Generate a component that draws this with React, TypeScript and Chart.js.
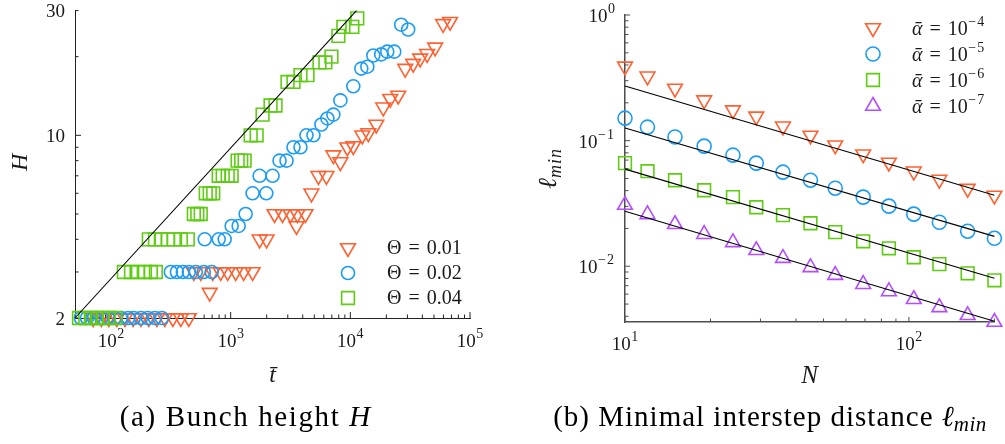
import React, { useEffect, useRef } from 'react';
import { Chart, registerables } from 'chart.js';
import { drawPoint } from 'chart.js/helpers';

Chart.register(...registerables);

const SERIF = '"Liberation Serif", "DejaVu Serif", serif';
const INK = '#1a1a1a';

const ORANGE = '#ff6030';
const BLUE = '#1a9cf7';
const GREEN = '#5fcc14';
const PURPLE = '#b34dff';

// ---------- Panel (a): bunch height H against mean time t̄ ----------
const tTheta001 = [71, 83, 96, 112, 131, 153, 178, 207, 242, 282, 329, 383, 447, 492, 562, 668, 708, 825, 944, 1101, 1283, 1525, 1745, 1995, 2326, 2712, 3162, 3548, 3615, 4217, 4732, 5412, 6310, 7213, 8254, 9441, 10590, 12590, 14130, 16480, 18840, 21540, 25120, 28730, 33500, 38310, 43820, 51110, 59590, 68130];
const hTheta001 = [2, 2, 2, 2, 2, 2, 2, 2, 2, 2, 2, 2, 2, 3, 3, 2.5, 3, 3, 3, 3, 3, 3, 4, 4, 5, 5, 5, 4.5, 5, 5, 6, 7, 7, 8.4, 7.9, 9, 9.1, 10, 10.2, 11, 12.8, 13.8, 14.2, 18, 18.8, 19.7, 20.5, 21.7, 26.7, 27.2];

const tTheta002 = [56, 63, 72, 83, 94, 108, 121, 139, 155, 178, 203, 233, 266, 316, 355, 398, 447, 511, 596, 607, 694, 794, 891, 1019, 1166, 1334, 1525, 1745, 1985, 2239, 2561, 2929, 3350, 3831, 4299, 4918, 5730, 6429, 7213, 8254, 10590, 12350, 13870, 15560, 18120, 20330, 23270, 26610, 30430];
const hTheta002 = [2, 2, 2, 2, 2, 2, 2, 2, 2, 2, 2, 2, 2, 3, 3, 3, 3, 3, 3, 4, 3, 4, 4, 4.5, 4.5, 5, 6, 7, 6, 7, 8, 8, 9, 9, 10, 10, 11, 11.6, 12, 13.6, 15.4, 18, 18.3, 20.2, 20.4, 20.9, 20.9, 26.5, 25.4];

const tTheta004 = [54, 61, 68, 76, 85, 96, 109, 128, 147, 168, 192, 207, 215, 233, 237, 261, 299, 335, 383, 438, 492, 526, 562, 619, 668, 715, 794, 858, 944, 1019, 1143, 1224, 1308, 1468, 1648, 1848, 2154, 2371, 2985, 3350, 3831, 4382, 5522, 6190, 6950, 7943, 8745, 10390, 11430];
const hTheta004 = [2, 2, 2, 2, 2, 2, 2, 3, 3, 3, 3, 4, 3, 4, 3, 4, 4, 4, 4, 4, 5, 5, 5, 6, 6, 6, 7, 7, 7, 7, 8, 8, 8, 10, 10, 12, 13, 13, 16, 16, 17, 17, 19, 19, 20, 24, 26, 26, 28];

// Power-law guide H ~ t^(1/2)
const tFitA = [50, 11250];
const hFitA = [2, 30];

const thetaLabels = ['Θ = 0.01', 'Θ = 0.02', 'Θ = 0.04'];
const hTickLabels = [2, 10, 30];
const tTickExponents = [2, 3, 4, 5];

// ---------- Panel (b): minimal interstep distance against N ----------
const nValues = [10, 12, 15, 19, 24, 29, 36, 45, 55, 69, 85, 104, 128, 161, 200];
const lAlpha4 = [0.39, 0.325, 0.26, 0.21, 0.175, 0.156, 0.13, 0.11, 0.092, 0.078, 0.067, 0.057, 0.049, 0.0415, 0.0366];
const lAlpha5 = [0.151, 0.128, 0.107, 0.0904, 0.0766, 0.0662, 0.0561, 0.0484, 0.0418, 0.0355, 0.0301, 0.026, 0.0224, 0.019, 0.0167];
const lAlpha6 = [0.0662, 0.0571, 0.0484, 0.0403, 0.0355, 0.0295, 0.0255, 0.022, 0.0187, 0.0158, 0.0139, 0.0118, 0.0104, 0.00879, 0.00773];
const lAlpha7 = [0.0307, 0.0259, 0.0216, 0.018, 0.0155, 0.0134, 0.0116, 0.0098, 0.0085, 0.0072, 0.0063, 0.00546, 0.00471, 0.00407, 0.0036];

// Power-law guides ℓ ~ N^(-2/3)
const nFit = [10, 200];
const lFitAlpha4 = [0.272, 0.0368];
const lFitAlpha5 = [0.126, 0.0173];
const lFitAlpha6 = [0.0593, 0.00802];
const lFitAlpha7 = [0.0274, 0.00365];

const alphaLabels = ['ᾱ = 10^-4', 'ᾱ = 10^-5', 'ᾱ = 10^-6', 'ᾱ = 10^-7'];
const lTickExponents = [0, -1, -2];
const nTickExponents = [1, 2];

// ---------- text helpers ----------
type Run = { text: string; size: number; italic?: boolean; dy?: number; pre?: number; spacing?: number };

const fontOf = (r: Run) => `${r.italic ? 'italic ' : ''}${r.size}px ${SERIF}`;

function measureRuns(ctx: CanvasRenderingContext2D, runs: Run[]) {
  let w = 0;
  for (const r of runs) {
    ctx.font = fontOf(r);
    (ctx as any).letterSpacing = `${r.spacing || 0}px`;
    w += (r.pre || 0) + ctx.measureText(r.text).width;
  }
  (ctx as any).letterSpacing = '0px';
  return w;
}

function drawRuns(ctx: CanvasRenderingContext2D, runs: Run[], x: number, y: number, align: 'left' | 'center' | 'right') {
  const w = measureRuns(ctx, runs);
  let cx = align === 'center' ? x - w / 2 : align === 'right' ? x - w : x;
  ctx.textAlign = 'left';
  ctx.textBaseline = 'alphabetic';
  for (const r of runs) {
    ctx.font = fontOf(r);
    (ctx as any).letterSpacing = `${r.spacing || 0}px`;
    cx += r.pre || 0;
    ctx.fillText(r.text, cx, y + (r.dy || 0));
    cx += ctx.measureText(r.text).width;
  }
  (ctx as any).letterSpacing = '0px';
}

const powerRuns = (exp: number, size: number, expSize: number, raise: number): Run[] => [
  { text: '10', size },
  { text: exp < 0 ? `−${-exp}` : String(exp), size: expSize, dy: -raise, pre: 0.5, spacing: exp < 0 ? 1 : 0 },
];

function legendRuns(label: string, size: number): Run[] {
  const [lhs, rhs] = label.split(' = ');
  const runs: Run[] = [{ text: lhs, size, italic: /[α-ωᾱ]/.test(lhs) }, { text: '=', size, pre: 7 }];
  const m = rhs.match(/^10\^(-?\d+)$/);
  if (m) {
    const p = powerRuns(Number(m[1]), size, 14, 9);
    p[0].pre = 7;
    runs.push(...p);
  } else {
    runs.push({ text: rhs, size, pre: 7 });
  }
  return runs;
}

function logTickValues(min: number, max: number) {
  const out: { value: number; major: boolean }[] = [];
  for (let e = Math.floor(Math.log10(min)); e <= Math.ceil(Math.log10(max)); e++) {
    for (let m = 1; m <= 9; m++) {
      const v = m * Math.pow(10, e);
      if (v >= min * 0.9999 && v <= max * 1.0001) out.push({ value: v, major: m === 1 });
    }
  }
  return out;
}

function drawInwardTicks(chart: Chart, major: number, minor: number, color: string, width: number) {
  const { ctx, chartArea } = chart;
  const xs = chart.scales.x;
  const ys = chart.scales.y;
  ctx.save();
  ctx.strokeStyle = color;
  ctx.lineWidth = width;
  ctx.beginPath();
  for (const t of logTickValues(xs.min, xs.max)) {
    const p = xs.getPixelForValue(t.value);
    ctx.moveTo(p, chartArea.bottom);
    ctx.lineTo(p, chartArea.bottom - (t.major ? major : minor));
  }
  for (const t of logTickValues(ys.min, ys.max)) {
    const p = ys.getPixelForValue(t.value);
    ctx.moveTo(chartArea.left, p);
    ctx.lineTo(chartArea.left + (t.major ? major : minor), p);
  }
  ctx.stroke();
  ctx.restore();
}

function drawLegendMarker(ctx: CanvasRenderingContext2D, ds: any, x: number, y: number) {
  ctx.save();
  ctx.strokeStyle = ds.borderColor;
  ctx.fillStyle = 'rgba(0,0,0,0)';
  ctx.lineWidth = ds.pointBorderWidth;
  drawPoint(ctx, { pointStyle: ds.pointStyle, rotation: ds.pointRotation || 0, radius: ds.pointRadius, borderWidth: ds.pointBorderWidth } as any, x, y);
  ctx.restore();
}

const pts = (xs: number[], ys: number[]) => xs.map((x, i) => ({ x, y: ys[i] }));

const markerSet = (label: string, data: { x: number; y: number }[], color: string, style: string, radius: number, rotation: number, order: number) => ({
  label,
  data,
  showLine: false,
  borderColor: color,
  backgroundColor: 'rgba(0,0,0,0)',
  pointStyle: style,
  pointRadius: radius,
  pointRotation: rotation,
  pointBorderWidth: 1.6,
  clip: false as any,
  order,
});

const fitSet = (data: { x: number; y: number }[]) => ({
  label: 'fit',
  data,
  showLine: true,
  borderColor: '#000',
  borderWidth: 1.1,
  pointRadius: 0,
  order: 0,
  clip: false as any,
});

const baseOptions = {
  animation: false as const,
  responsive: false,
  devicePixelRatio: 1,
  events: [] as any[],
  plugins: { legend: { display: false }, tooltip: { enabled: false } },
};

function logAxis(min: number, max: number, size: number, horizontal: boolean, color: string, width: number) {
  return {
    type: 'logarithmic' as const,
    min,
    max,
    grid: { display: false },
    border: { display: true, color, width },
    ticks: { display: false },
    afterFit: (s: any) => {
      if (horizontal) s.height = size;
      else s.width = size;
    },
  };
}

function configA(): any {
  return {
    type: 'scatter',
    data: {
      datasets: [
        fitSet(pts(tFitA, hFitA)),
        markerSet(thetaLabels[0], pts(tTheta001, hTheta001), ORANGE, 'triangle', 8.5, 180, 3),
        markerSet(thetaLabels[1], pts(tTheta002, hTheta002), BLUE, 'circle', 6.5, 0, 2),
        markerSet(thetaLabels[2], pts(tTheta004, hTheta004), GREEN, 'rect', 9, 0, 1),
      ],
    },
    options: {
      ...baseOptions,
      layout: { padding: { top: 10, right: 30, left: 0, bottom: 0 } },
      scales: {
        x: logAxis(50, 100000, 126, true, '#222', 1),
        y: logAxis(2, 30, 75, false, '#222', 1),
      },
    },
    plugins: [
      {
        id: 'panelA',
        beforeDatasetsDraw(chart: Chart) {
          drawInwardTicks(chart, 6, 3.5, '#222', 1);
        },
        afterDraw(chart: Chart) {
          const { ctx, chartArea } = chart;
          const xs = chart.scales.x;
          const ys = chart.scales.y;
          ctx.save();
          ctx.fillStyle = INK;
          for (const v of hTickLabels) {
            drawRuns(ctx, [{ text: String(v), size: 19 }], chartArea.left - 10, ys.getPixelForValue(v) + 6.5, 'right');
          }
          for (const e of tTickExponents) {
            drawRuns(ctx, powerRuns(e, 19, 14, 9), xs.getPixelForValue(Math.pow(10, e)), chartArea.bottom + 29, 'center');
          }
          // axis titles
          ctx.save();
          ctx.translate(27, (chartArea.top + chartArea.bottom) / 2 - 2);
          ctx.rotate(-Math.PI / 2);
          drawRuns(ctx, [{ text: 'H', size: 24, italic: true }], 0, 0, 'center');
          ctx.restore();
          drawRuns(ctx, [{ text: 't\u0304', size: 24, italic: true }], (chartArea.left + chartArea.right) / 2, 382, 'center');
          // legend
          const rows = [248, 273, 298];
          chart.data.datasets.slice(1).forEach((ds: any, i: number) => {
            drawLegendMarker(ctx, ds, 348, rows[i]);
            ctx.fillStyle = INK;
            drawRuns(ctx, legendRuns(ds.label, 20), 387, rows[i] + 6, 'left');
          });
          // caption
          ctx.fillStyle = '#000';
          drawRuns(ctx, [
            { text: '(a) Bunch height ', size: 29, spacing: 1.6 },
            { text: 'H', size: 29, italic: true },
          ], 245, 426, 'center');
          ctx.restore();
        },
      },
    ],
  };
}

function configB(): any {
  return {
    type: 'scatter',
    data: {
      datasets: [
        fitSet(pts(nFit, lFitAlpha4)),
        fitSet(pts(nFit, lFitAlpha5)),
        fitSet(pts(nFit, lFitAlpha6)),
        fitSet(pts(nFit, lFitAlpha7)),
        markerSet(alphaLabels[0], pts(nValues, lAlpha4), ORANGE, 'triangle', 8.5, 180, 1),
        markerSet(alphaLabels[1], pts(nValues, lAlpha5), BLUE, 'circle', 7, 0, 1),
        markerSet(alphaLabels[2], pts(nValues, lAlpha6), GREEN, 'rect', 9, 0, 1),
        markerSet(alphaLabels[3], pts(nValues, lAlpha7), PURPLE, 'triangle', 8.5, 0, 1),
      ],
    },
    options: {
      ...baseOptions,
      layout: { padding: { top: 15, right: 8, left: 0, bottom: 0 } },
      scales: {
        x: logAxis(10, 200, 122, true, '#4d4d4d', 1.5),
        y: logAxis(0.0036, 1, 125, false, '#4d4d4d', 1.5),
      },
    },
    plugins: [
      {
        id: 'panelB',
        beforeDatasetsDraw(chart: Chart) {
          drawInwardTicks(chart, 5, 3.5, '#4d4d4d', 1);
        },
        afterDraw(chart: Chart) {
          const { ctx, chartArea } = chart;
          const xs = chart.scales.x;
          const ys = chart.scales.y;
          ctx.save();
          ctx.fillStyle = INK;
          for (const e of lTickExponents) {
            drawRuns(ctx, powerRuns(e, 19, 14, 9), chartArea.left - 10, ys.getPixelForValue(Math.pow(10, e)) + 7, 'right');
          }
          for (const e of nTickExponents) {
            drawRuns(ctx, powerRuns(e, 19, 14, 9), xs.getPixelForValue(Math.pow(10, e)), chartArea.bottom + 28, 'center');
          }
          // axis titles
          ctx.save();
          ctx.translate(56, (chartArea.top + chartArea.bottom) / 2);
          ctx.rotate(-Math.PI / 2);
          drawRuns(ctx, [
            { text: 'ℓ', size: 26, italic: true },
            { text: 'min', size: 18, italic: true, dy: 5, spacing: 1 },
          ], 0, 0, 'center');
          ctx.restore();
          drawRuns(ctx, [{ text: 'N', size: 25, italic: true }], (chartArea.left + chartArea.right) / 2, 383, 'center');
          // legend
          const rows = [28, 54, 80, 106];
          chart.data.datasets.slice(4).forEach((ds: any, i: number) => {
            drawLegendMarker(ctx, ds, 373, rows[i]);
            ctx.fillStyle = INK;
            drawRuns(ctx, legendRuns(ds.label, 20), 412, rows[i] + 7, 'left');
          });
          // caption
          ctx.fillStyle = '#000';
          drawRuns(ctx, [
            { text: '(b) Minimal interstep distance ', size: 29, spacing: 1 },
            { text: 'ℓ', size: 29, italic: true },
            { text: 'min', size: 21, italic: true, dy: 5, spacing: 0.5 },
          ], 270, 426, 'center');
          ctx.restore();
        },
      },
    ],
  };
}

function Panel({ left, width, makeConfig }: { left: number; width: number; makeConfig: () => any }) {
  const ref = useRef<HTMLCanvasElement>(null);
  useEffect(() => {
    const chart = new Chart(ref.current!, makeConfig());
    return () => chart.destroy();
  }, [makeConfig]);
  return (
    <canvas
      ref={ref}
      width={width}
      height={444}
      style={{ position: 'absolute', left, top: 0, width, height: 444 }}
    />
  );
}

export default function App() {
  return (
    <div style={{ position: 'absolute', left: 0, top: 0, width: 1005, height: 444, background: '#fff' }}>
      <Panel left={0} width={500} makeConfig={configA} />
      <Panel left={500} width={505} makeConfig={configB} />
    </div>
  );
}
